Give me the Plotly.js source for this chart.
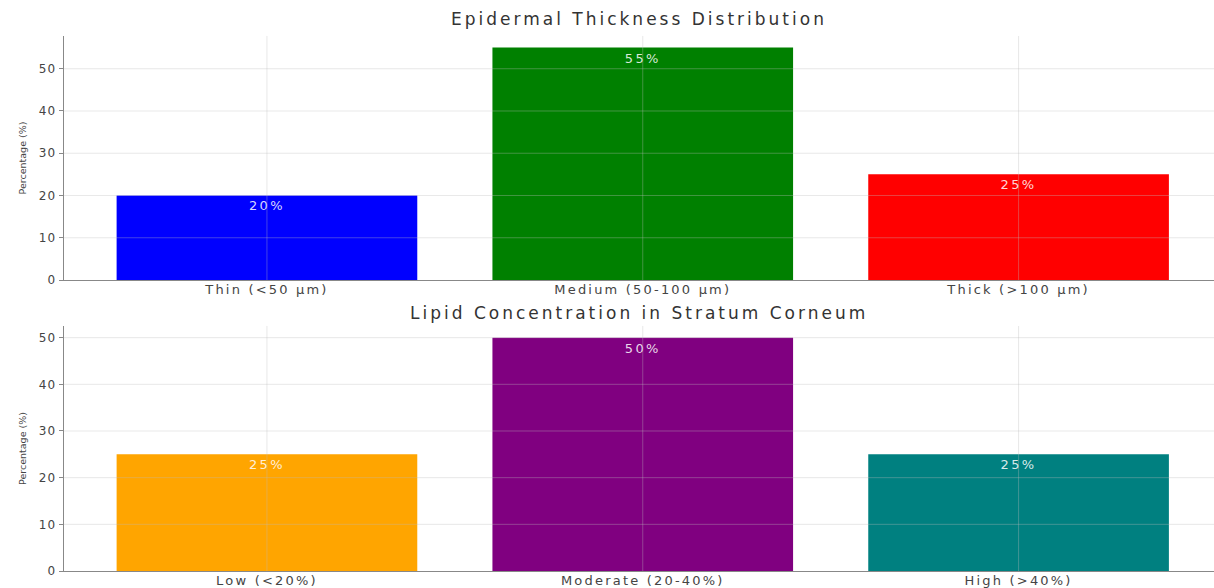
<!DOCTYPE html>
<html><head><meta charset="utf-8">
<script src="https://cdn.plot.ly/plotly-3.0.1.min.js"></script>
<style>
html,body{margin:0;padding:0;overflow:hidden;background:#fff}
#chart .xtick text, #chart .x2tick text{letter-spacing:2.2px}
#chart .ytick text, #chart .y2tick text{letter-spacing:1.2px}
#chart .annotation-text{letter-spacing:3px}
#chart text.bartext{letter-spacing:2.4px}
</style>
</head><body><div id="chart" style="width:1214px;height:588px"></div>
<script>
const thicknessCategories = ["Thin (<50 μm)", "Medium (50-100 μm)", "Thick (>100 μm)"];
const thicknessValues = [20, 55, 25];
const thicknessColors = ["blue", "green", "red"];
const lipidCategories = ["Low (<20%)", "Moderate (20-40%)", "High (>40%)"];
const lipidValues = [25, 50, 25];
const lipidColors = ["orange", "purple", "teal"];
const topTicks = [0, 10, 20, 30, 40, 50];
const bottomTicks = [0, 10, 20, 30, 40, 50];
const titles = ["Epidermal Thickness Distribution", "Lipid Concentration in Stratum Corneum"];

const font = "DejaVu Sans, sans-serif";
function barTrace(cats, vals, cols, xa, ya) {
  return {
    type: "bar", x: cats, y: vals, xaxis: xa, yaxis: ya,
    marker: {color: cols, line: {width: 0}},
    width: 0.8,
    text: vals.map(v => v + "%"), textposition: "inside", insidetextanchor: "end",
    textfont: {color: "rgba(255,255,255,0.85)", size: 13, family: font},
    textangle: 0, cliponaxis: false, hoverinfo: "x+y"
  };
}
const data = [
  barTrace(thicknessCategories, thicknessValues, thicknessColors, "x", "y"),
  barTrace(lipidCategories, lipidValues, lipidColors, "x2", "y2")
];
function yaxis(domain, max, ticks, anchor) {
  return {
    domain: domain, range: [0, max * 1.05], anchor: anchor,
    tickvals: ticks, ticks: "outside", ticklen: 4, tickcolor: "#888", tickwidth: 1,
    showgrid: false, zeroline: false, showline: true, linecolor: "#888", linewidth: 1.3,
    tickfont: {family: font, size: 12, color: "#444"},
    title: {text: "Percentage (%)", font: {family: font, size: 9.5, color: "#444"}, standoff: 12},
    fixedrange: true
  };
}
function xaxis(anchor) {
  return {
    anchor: anchor, range: [-0.54, 2.52], ticks: "", showgrid: false, zeroline: false,
    showline: true, linecolor: "#888", linewidth: 1.3, ticklabelstandoff: -3,
    tickfont: {family: font, size: 13, color: "#444"}, fixedrange: true
  };
}
const shapes = [];
function grid(cats, ticks, xr, yr) {
  ticks.forEach(t => { if (t > 0) shapes.push({type: "line", xref: xr + " domain", yref: yr, x0: 0, x1: 1, y0: t, y1: t, line: {color: "rgba(190,190,190,0.35)", width: 1}, layer: "above"}); });
  cats.forEach(c => shapes.push({type: "line", xref: xr, yref: yr + " domain", x0: c, x1: c, y0: 0, y1: 1, line: {color: "rgba(190,190,190,0.35)", width: 1}, layer: "above"}));
}
grid(thicknessCategories, topTicks, "x", "y");
grid(lipidCategories, bottomTicks, "x2", "y2");

const layout = {
  width: 1214, height: 588, showlegend: false, bargap: 0.2,
  margin: {l: 64, r: 0, t: 0, b: 0},
  paper_bgcolor: "#fff", plot_bgcolor: "#fff",
  xaxis: xaxis("y"), yaxis: yaxis([0.5238, 0.9388], Math.max(...thicknessValues), topTicks, "x"),
  xaxis2: xaxis("y2"), yaxis2: yaxis([0.0289, 0.4456], Math.max(...lipidValues), bottomTicks, "x2"),
  shapes: shapes,
  annotations: [
    {text: titles[0], xref: "paper", yref: "paper", x: 0.5, y: 0.9388, yshift: 5, xanchor: "center", yanchor: "bottom", showarrow: false, font: {family: font, size: 17, color: "#333"}},
    {text: titles[1], xref: "paper", yref: "paper", x: 0.5, y: 0.4456, yshift: 1, xanchor: "center", yanchor: "bottom", showarrow: false, font: {family: font, size: 17, color: "#333"}}
  ]
};
Plotly.newPlot("chart", data, layout, {displayModeBar: false, staticPlot: true});
</script></body></html>
